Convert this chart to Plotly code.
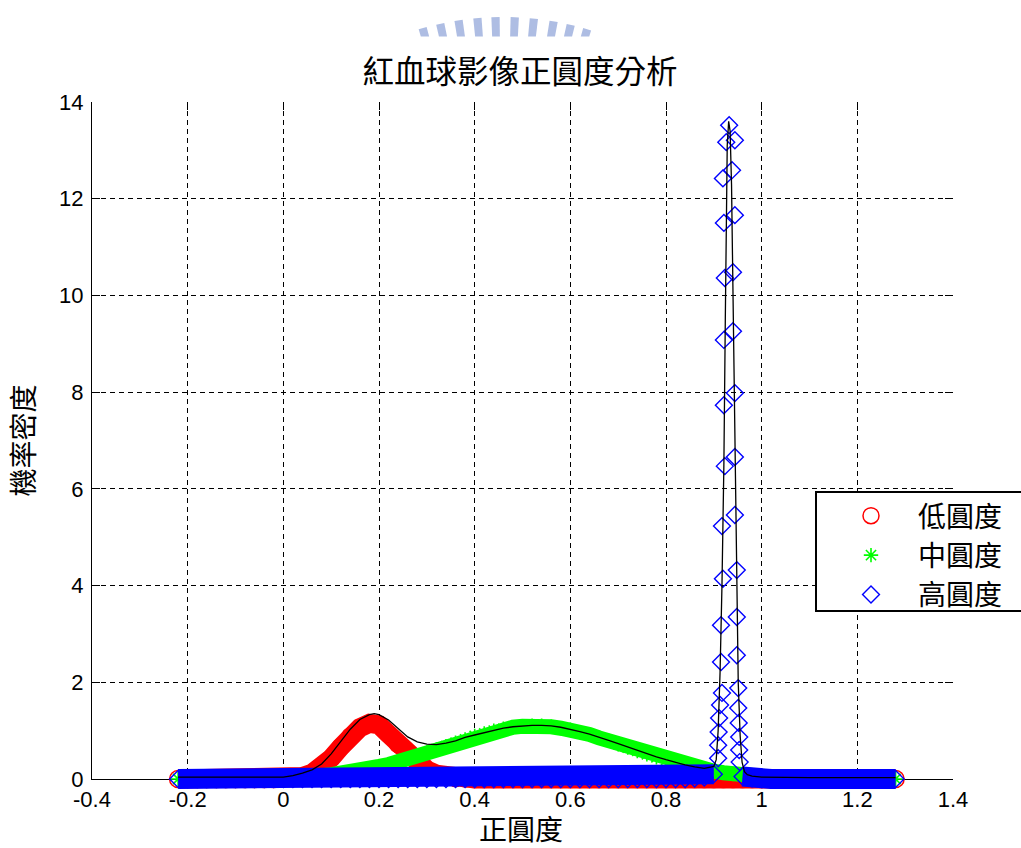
import math
import plotly.graph_objects as go

# ---------------------------------------------------------------- data
# sample positions shared by the low / medium circularity density curves
x_grid = [-0.22, -0.20, -0.18, -0.16, -0.14, -0.12, -0.10, -0.08, -0.06, -0.04, -0.02,
          0.00, 0.02, 0.04, 0.06, 0.08, 0.10, 0.12, 0.14, 0.16, 0.18,
          0.20, 0.22, 0.24, 0.26, 0.28, 0.30, 0.32, 0.34, 0.36, 0.38,
          0.40, 0.42, 0.44, 0.46, 0.48, 0.50, 0.52, 0.54, 0.56, 0.58,
          0.60, 0.62, 0.64, 0.66, 0.68, 0.70, 0.72, 0.74, 0.76, 0.78,
          0.80, 0.82, 0.84, 0.86, 0.88, 0.90, 0.92, 0.94, 0.96, 0.98,
          1.00, 1.02, 1.04, 1.06, 1.08, 1.10, 1.12, 1.14, 1.16, 1.18,
          1.20, 1.22, 1.24, 1.26, 1.28]

# low circularity (低圓度)
low_density = [0.00, 0.00, 0.00, 0.00, 0.00, 0.00, 0.00, 0.00, 0.00, 0.00, 0.00,
               0.01, 0.02, 0.05, 0.12, 0.25, 0.43, 0.66, 0.88, 1.06, 1.15,
               1.12, 0.93, 0.72, 0.50, 0.33, 0.19, 0.10, 0.05, 0.02, 0.01,
               0.00, 0.00, 0.00, 0.00, 0.00, 0.00, 0.00, 0.00, 0.00, 0.00,
               0.00, 0.00, 0.00, 0.00, 0.00, 0.00, 0.00, 0.00, 0.00, 0.00,
               0.00, 0.00, 0.00, 0.00, 0.00, 0.00, 0.00, 0.00, 0.00, 0.00,
               0.00, 0.00, 0.00, 0.00, 0.00, 0.00, 0.00, 0.00, 0.00, 0.00,
               0.00, 0.00, 0.00, 0.00, 0.00]

# medium circularity (中圓度)
mid_density = [0.00, 0.00, 0.00, 0.00, 0.00, 0.00, 0.01, 0.01, 0.01, 0.01, 0.02,
               0.02, 0.03, 0.04, 0.05, 0.07, 0.09, 0.11, 0.14, 0.17, 0.21,
               0.26, 0.30, 0.36, 0.42, 0.48, 0.55, 0.61, 0.68, 0.75, 0.82,
               0.89, 0.94, 1.00, 1.04, 1.07, 1.09, 1.10, 1.10, 1.08, 1.05,
               1.02, 0.97, 0.92, 0.85, 0.79, 0.72, 0.65, 0.58, 0.51, 0.45,
               0.39, 0.33, 0.28, 0.23, 0.19, 0.16, 0.13, 0.10, 0.08, 0.06,
               0.05, 0.04, 0.03, 0.02, 0.02, 0.01, 0.01, 0.01, 0.01, 0.00,
               0.00, 0.00, 0.00, 0.00, 0.00]

# high circularity (高圓度): flat run, the narrow peak near 0.93, flat run
high_x = [-0.22, -0.20, -0.18, -0.16, -0.14, -0.12, -0.10, -0.08, -0.06, -0.04, -0.02,
          0.00, 0.02, 0.04, 0.06, 0.08, 0.10, 0.12, 0.14, 0.16, 0.18,
          0.20, 0.22, 0.24, 0.26, 0.28, 0.30, 0.32, 0.34, 0.36, 0.38,
          0.40, 0.42, 0.44, 0.46, 0.48, 0.50, 0.52, 0.54, 0.56, 0.58,
          0.60, 0.62, 0.64, 0.66, 0.68, 0.70, 0.72, 0.74, 0.76, 0.78,
          0.80, 0.82, 0.84, 0.86, 0.88, 0.90,
          0.909, 0.909, 0.910, 0.911, 0.913, 0.917, 0.915, 0.915, 0.919, 0.917,
          0.923, 0.921, 0.921, 0.923, 0.921, 0.919, 0.926,
          0.932,
          0.944, 0.938, 0.944, 0.940, 0.940, 0.944, 0.944, 0.944, 0.948, 0.948,
          0.948, 0.951, 0.951, 0.952, 0.953, 0.953, 0.954,
          0.96, 0.98, 1.00, 1.02, 1.04, 1.06, 1.08, 1.10, 1.12, 1.14,
          1.16, 1.18, 1.20, 1.22, 1.24, 1.26, 1.28]
high_density = [0.00, 0.00, 0.00, 0.00, 0.00, 0.00, 0.00, 0.00, 0.00, 0.00, 0.00,
                0.00, 0.00, 0.00, 0.00, 0.00, 0.00, 0.00, 0.00, 0.00, 0.00,
                0.00, 0.00, 0.00, 0.00, 0.00, 0.00, 0.00, 0.00, 0.00, 0.00,
                0.00, 0.00, 0.00, 0.00, 0.00, 0.00, 0.00, 0.00, 0.00, 0.00,
                0.00, 0.00, 0.00, 0.00, 0.00, 0.00, 0.00, 0.00, 0.00, 0.00,
                0.00, 0.00, 0.00, 0.01, 0.03, 0.10,
                0.43, 0.70, 0.97, 1.26, 1.53, 1.78, 2.42, 3.18, 4.14, 5.23,
                6.47, 7.73, 9.08, 10.36, 11.50, 12.42, 13.17,
                13.52,
                13.21, 12.59, 11.66, 10.48, 9.26, 7.98, 6.66, 5.46, 4.32, 3.35,
                2.56, 1.88, 1.47, 1.16, 0.87, 0.60, 0.35,
                0.05, 0.01, 0.00, 0.00, 0.00, 0.00, 0.00, 0.00, 0.00, 0.00,
                0.00, 0.00, 0.00, 0.00, 0.00, 0.00, 0.00]

# combined density curve
mix_x = [-0.22, -0.10, 0.00, 0.02, 0.04, 0.06, 0.08, 0.10, 0.12, 0.14, 0.16, 0.18, 0.19,
         0.20, 0.22, 0.24, 0.26, 0.28, 0.30, 0.32, 0.34, 0.36, 0.38, 0.40, 0.42,
         0.44, 0.46, 0.48, 0.50, 0.52, 0.54, 0.56, 0.58, 0.60, 0.62, 0.64, 0.66,
         0.68, 0.70, 0.72, 0.74, 0.76, 0.78, 0.80, 0.82, 0.84, 0.86, 0.88, 0.90,
         0.905, 0.909, 0.913, 0.917, 0.921, 0.924, 0.926, 0.928, 0.931, 0.934,
         0.937, 0.939, 0.942, 0.944, 0.946, 0.948, 0.951, 0.955, 0.959, 0.964,
         0.970, 0.980, 1.00, 1.10, 1.28]
mix_density = [0.04, 0.04, 0.04, 0.07, 0.12, 0.19, 0.31, 0.52, 0.78, 1.03, 1.23, 1.33, 1.35,
               1.33, 1.22, 1.04, 0.87, 0.77, 0.72, 0.71, 0.74, 0.79, 0.86, 0.91, 0.96,
               1.01, 1.05, 1.08, 1.10, 1.11, 1.11, 1.10, 1.07, 1.03, 0.98, 0.93, 0.87,
               0.80, 0.73, 0.66, 0.59, 0.52, 0.46, 0.40, 0.34, 0.29, 0.25, 0.22, 0.26,
               0.40, 1.00, 2.20, 4.00, 6.50, 9.50, 12.00, 13.10, 13.60, 13.40,
               12.30, 10.80, 8.60, 6.80, 5.00, 3.50, 2.00, 0.90, 0.35, 0.15,
               0.09, 0.06, 0.04, 0.03, 0.03]

series_names = ["低圓度", "中圓度", "高圓度"]

x_ticks = [-0.4, -0.2, 0.0, 0.2, 0.4, 0.6, 0.8, 1.0, 1.2, 1.4]
x_tick_text = ["-0.4", "-0.2", "0", "0.2", "0.4", "0.6", "0.8", "1", "1.2", "1.4"]
y_ticks = [0, 2, 4, 6, 8, 10, 12, 14]
y_tick_text = ["0", "2", "4", "6", "8", "10", "12", "14"]

title_text = "紅血球影像正圓度分析"
x_title = "正圓度"
y_title = "機率密度"

# ---------------------------------------------------------------- style
CJK = "Noto Sans CJK TC"
NUM = "Liberation Sans"
RED, GREEN, BLUE = "#ff0000", "#00ff00", "#0000ff"

W, H = 1021, 848
L, R, T, B = 92, 68, 102, 58          # outer frame of the marker layer
AXIS_DROP = 11                          # markers may hang this far below the x axis
AREA_H = H - T - B
Y_MAX = 14.0
PX_PER_UNIT = (AREA_H - AXIS_DROP) / Y_MAX
Y_LOW = -AXIS_DROP / PX_PER_UNIT        # data-layer range so 0 sits on the x axis
AXIS_DOMAIN_Y0 = AXIS_DROP / AREA_H


def paper(px, py):
    """pixel position on the page -> paper coordinates"""
    return (px - L) / (W - L - R), (H - B - py) / AREA_H


def flat_runs(xs, ys, cap=0.2, gap=0.03):
    """points of a series lying on the floor, split where the run breaks"""
    ox, oy, prev = [], [], None
    for x, y in zip(xs, ys):
        if y >= cap:
            continue
        if prev is not None and x - prev > gap:
            ox.append(None)
            oy.append(None)
        ox.append(x)
        oy.append(y)
        prev = x
    return ox, oy


fig = go.Figure()

# empty traces so the frame axes and the mirrored tick axes get drawn
fig.add_trace(go.Scatter(x=[], y=[], xaxis="x", yaxis="y", showlegend=False))
fig.add_trace(go.Scatter(x=[], y=[], xaxis="x3", yaxis="y3", showlegend=False))

data_axes = dict(xaxis="x2", yaxis="y2")

# low circularity: dense open circles form a solid band
fig.add_trace(go.Scatter(x=x_grid, y=low_density, mode="lines", hoverinfo="skip",
                         line=dict(color=RED, width=19), showlegend=False, **data_axes))
fig.add_trace(go.Scatter(x=x_grid, y=low_density, mode="markers", name=series_names[0],
                         marker=dict(symbol="circle-open", size=17, color=RED,
                                     line=dict(color=RED, width=1.5)), **data_axes))

# medium circularity: asterisks
fig.add_trace(go.Scatter(x=x_grid, y=mid_density, mode="lines", hoverinfo="skip",
                         line=dict(color=GREEN, width=15), showlegend=False, **data_axes))
fig.add_trace(go.Scatter(x=x_grid, y=mid_density, mode="markers", name=series_names[1],
                         marker=dict(symbol="asterisk-open", size=12, color=GREEN,
                                     line=dict(color=GREEN, width=1.6)), **data_axes))

# high circularity: diamonds
hx, hy = flat_runs(high_x, high_density)
fig.add_trace(go.Scatter(x=hx, y=hy, mode="lines", hoverinfo="skip", connectgaps=False,
                         line=dict(color=BLUE, width=20), showlegend=False, **data_axes))
fig.add_trace(go.Scatter(x=high_x, y=high_density, mode="markers", name=series_names[2],
                         marker=dict(symbol="diamond-open", size=13, color=BLUE,
                                     line=dict(color=BLUE, width=1.4)), **data_axes))

# combined curve
fig.add_trace(go.Scatter(x=mix_x, y=mix_density, mode="lines", showlegend=False,
                         line=dict(color="black", width=1.3), **data_axes))

grid_dash = "5px,4px"
tick_font = dict(family=NUM, size=22, color="black")

fig.update_layout(
    width=W, height=H,
    margin=dict(l=L, r=R, t=T, b=B, autoexpand=False),
    paper_bgcolor="white", plot_bgcolor="rgba(0,0,0,0)",
    title=dict(text=title_text, x=0.497, xref="paper", xanchor="center",
               y=1 - 72 / H, yref="container", yanchor="middle",
               font=dict(family=CJK, size=31.5, color="black")),
    # frame axes: grid, ticks, labels
    xaxis=dict(domain=[0, 1], anchor="y", range=[-0.4, 1.4],
               tickvals=x_ticks, ticktext=x_tick_text,
               ticks="inside", ticklen=8, tickwidth=1, tickcolor="black",
               showline=True, linecolor="black", linewidth=1,
               showgrid=True, gridcolor="black", gridwidth=1, griddash=grid_dash,
               zeroline=False, tickfont=tick_font, ticklabelstandoff=1, automargin=False),
    yaxis=dict(domain=[AXIS_DOMAIN_Y0, 1], anchor="x", range=[0, Y_MAX],
               tickvals=y_ticks, ticktext=y_tick_text,
               ticks="inside", ticklen=8, tickwidth=1, tickcolor="black",
               showline=True, linecolor="black", linewidth=1,
               showgrid=True, gridcolor="black", gridwidth=1, griddash=grid_dash,
               zeroline=False, tickfont=tick_font, ticklabelstandoff=3, automargin=False,
               title=dict(text=y_title, font=dict(family=CJK, size=28, color="black"),
                          standoff=16)),
    # data layer: same x scale, y scale extended below the axis
    xaxis2=dict(domain=[0, 1], anchor="y2", range=[-0.4, 1.4], visible=False),
    yaxis2=dict(domain=[0, 1], anchor="x2", range=[Y_LOW, Y_MAX], visible=False),
    # ticks on the top and right edges
    xaxis3=dict(range=[-0.4, 1.4], tickvals=x_ticks, overlaying="x", side="top",
                anchor="y", ticks="inside", ticklen=8, tickcolor="black",
                showticklabels=False, showgrid=False, zeroline=False, showline=False),
    yaxis3=dict(range=[0, Y_MAX], tickvals=y_ticks, overlaying="y", side="right",
                anchor="x", ticks="inside", ticklen=8, tickcolor="black",
                showticklabels=False, showgrid=False, zeroline=False, showline=False),
    legend=dict(x=paper(824, 0)[0], y=paper(0, 491)[1], xanchor="left", yanchor="top",
                bgcolor="rgba(0,0,0,0)", borderwidth=0, itemwidth=84,
                tracegroupgap=0, font=dict(family=CJK, size=28, color="black")),
)

# x-axis title, set just under the tick labels
fig.add_annotation(text=x_title, xref="paper", yref="paper",
                   x=paper(521, 0)[0], y=paper(0, 828)[1],
                   xanchor="center", yanchor="middle", showarrow=False,
                   font=dict(family=CJK, size=28, color="black"))

# legend frame (runs off the right edge of the page)
lx0, ly0 = paper(816, 611)
lx1, ly1 = paper(1040, 492)
fig.add_shape(type="rect", xref="paper", yref="paper", x0=lx0, x1=lx1, y0=ly0, y1=ly1,
              fillcolor="white", line=dict(color="black", width=2), layer="above")

# faded emblem along the top edge: radial bars cut off by a straight line
cx, cy, r_out, cut = 503.0, 313.0, 296.0, 36.5
half = 0.8 * math.pi / 180
for bx in [425, 443, 461, 479, 496, 514, 532, 551, 568, 585]:
    phi = math.atan2(bx - cx, cy - cut)
    pts = [(cx + r_out * math.sin(a), cy - r_out * math.cos(a)) for a in (phi - half, phi + half)]
    for a in (phi + half, phi - half):
        rr = (cy - cut) / math.cos(a)
        pts.append((cx + rr * math.sin(a), cy - rr * math.cos(a)))
    path = "M " + " L ".join("%.5f,%.5f" % paper(px, py) for px, py in pts) + " Z"
    fig.add_shape(type="path", path=path, xref="paper", yref="paper",
                  fillcolor="#aebde3", line=dict(width=0), layer="above")

fig.write_html("out.html")
